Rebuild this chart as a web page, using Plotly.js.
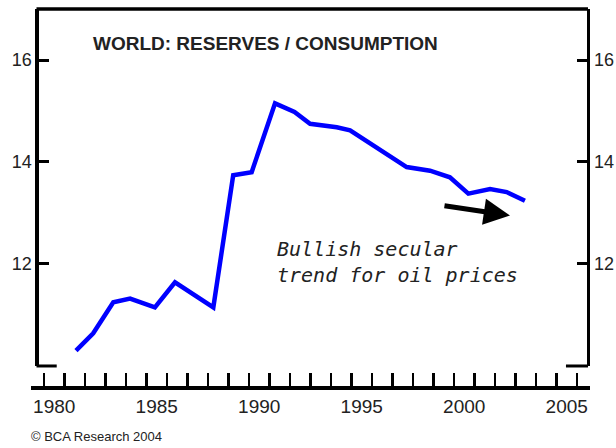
<!DOCTYPE html>
<html>
<head>
<meta charset="utf-8">
<script src="https://cdn.plot.ly/plotly-3.0.1.min.js"></script>
<style>
  html, body { margin: 0; padding: 0; background: #ffffff; }
  #chart { width: 616px; height: 448px; }
</style>
</head>
<body>
<div id="chart"></div>
<script>
// Data
var dates = [1981.56, 1982.4, 1983.38, 1984.2, 1985.41, 1986.39, 1988.26, 1989.23, 1990.13, 1991.27,
             1992.22, 1992.98, 1994.28, 1994.93, 1997.69, 1998.83, 1999.8, 2000.7, 2001.76, 2002.57, 2003.46];
var reservesToConsumption = [10.30, 10.64, 11.25, 11.32, 11.15, 11.64, 11.15, 13.74, 13.80, 15.15,
             14.98, 14.75, 14.68, 14.62, 13.90, 13.83, 13.70, 13.38, 13.47, 13.41, 13.24];
var yearTicks = [1980,1981,1982,1983,1984,1985,1986,1987,1988,1989,1990,1991,1992,1993,1994,1995,
                 1996,1997,1998,1999,2000,2001,2002,2003,2004,2005,2006];
var yearLabels = ["1980", "1985", "1990", "1995", "2000", "2005"];
var yTicks = [12, 14, 16];
var yLabels = ["12", "14", "16"];
var chartTitle = "WORLD: RESERVES / CONSUMPTION";
var noteText = "Bullish secular<br>trend for oil prices";
var sourceText = "\u00A9 BCA Research 2004";

var xRange = [1979.366, 2006.634];
var yRange = [10, 17];
var labelPositions = yearLabels.map(function (s) { return Number(s) + 0.5; });

var trace = {
  x: dates,
  y: reservesToConsumption,
  type: 'scatter',
  mode: 'lines',
  line: { color: '#0000ff', width: 4.5 },
  hoverinfo: 'skip',
  showlegend: false
};
// empty helper trace so the secondary (label / right) axes are drawn
var axisHelper = {
  x: [], y: [], type: 'scatter', mode: 'lines',
  xaxis: 'x2', yaxis: 'y2', hoverinfo: 'skip', showlegend: false
};

var fontFam = 'Liberation Sans, Arial, sans-serif';
var yDomain = [0.0556, 1];
var leftPos = 0.0098;
var rightPos = 0.9964;

var layout = {
  width: 616,
  height: 448,
  margin: { l: 31, r: 26, t: 9, b: 61, pad: 0 },
  paper_bgcolor: '#ffffff',
  plot_bgcolor: '#ffffff',
  showlegend: false,
  xaxis: {
    range: xRange,
    domain: [0, 1],
    anchor: 'free',
    position: 0,
    showgrid: false,
    zeroline: false,
    showline: true,
    linecolor: '#000000',
    linewidth: 3.5,
    tickmode: 'array',
    tickvals: yearTicks,
    ticks: 'inside',
    ticklen: 13,
    tickwidth: 2.5,
    tickcolor: '#000000',
    showticklabels: false,
    fixedrange: true
  },
  xaxis2: {
    range: xRange,
    domain: [0, 1],
    overlaying: 'x',
    anchor: 'free',
    position: 0,
    side: 'bottom',
    showgrid: false,
    zeroline: false,
    showline: false,
    tickmode: 'array',
    tickvals: labelPositions,
    ticktext: yearLabels,
    ticks: '',
    ticklabelstandoff: 6,
    tickfont: { family: fontFam, size: 19, color: '#222222' },
    fixedrange: true
  },
  yaxis: {
    range: yRange,
    domain: yDomain,
    anchor: 'free',
    position: leftPos,
    showgrid: false,
    zeroline: false,
    showline: true,
    linecolor: '#000000',
    linewidth: 3.5,
    tickmode: 'array',
    tickvals: yTicks,
    ticktext: yLabels,
    ticks: 'inside',
    ticklen: 10,
    tickwidth: 3,
    tickcolor: '#000000',
    tickfont: { family: fontFam, size: 18, color: '#222222' },
    fixedrange: true
  },
  yaxis2: {
    range: yRange,
    domain: yDomain,
    overlaying: 'y',
    side: 'right',
    anchor: 'free',
    position: rightPos,
    showgrid: false,
    zeroline: false,
    showline: true,
    linecolor: '#000000',
    linewidth: 3.5,
    tickmode: 'array',
    tickvals: yTicks,
    ticktext: yLabels,
    ticks: 'inside',
    ticklen: 10,
    tickwidth: 3,
    tickcolor: '#000000',
    tickfont: { family: fontFam, size: 18, color: '#222222' },
    fixedrange: true
  },
  shapes: [
    { type: 'line', xref: 'paper', yref: 'paper', x0: leftPos, x1: rightPos, y0: 1, y1: 1,
      line: { color: '#000000', width: 3.5 } },
    { type: 'line', xref: 'paper', yref: 'paper', x0: leftPos, x1: 0.046, y0: yDomain[0], y1: yDomain[0],
      line: { color: '#000000', width: 3 } },
    { type: 'line', xref: 'paper', yref: 'paper', x0: 0.957, x1: rightPos, y0: yDomain[0], y1: yDomain[0],
      line: { color: '#000000', width: 3 } }
  ],
  annotations: [
    { text: chartTitle, xref: 'paper', yref: 'paper', x: 0.108, y: 0.91,
      xanchor: 'left', yanchor: 'middle', showarrow: false,
      font: { family: fontFam, size: 19, color: '#222222', weight: 'bold' } },
    { text: noteText, xref: 'paper', yref: 'paper', x: 0.436, y: 0.332,
      xanchor: 'left', yanchor: 'middle', align: 'left', showarrow: false,
      font: { family: 'DejaVu Sans Mono, monospace', size: 20, color: '#222222', style: 'italic' } },
    { text: '', xref: 'x', yref: 'y', x: 2002.73, y: 12.95, ax: -67, ay: -10,
      showarrow: true, arrowhead: 2, arrowsize: 1.05, arrowwidth: 5, arrowcolor: '#000000',
      standoff: 0 },
    { text: sourceText, xref: 'paper', yref: 'paper', x: -0.004, y: -0.132,
      xanchor: 'left', yanchor: 'middle', showarrow: false,
      font: { family: fontFam, size: 13, color: '#222222' } }
  ]
};

Plotly.newPlot('chart', [trace, axisHelper], layout, { displayModeBar: false, staticPlot: true });
</script>
</body>
</html>
